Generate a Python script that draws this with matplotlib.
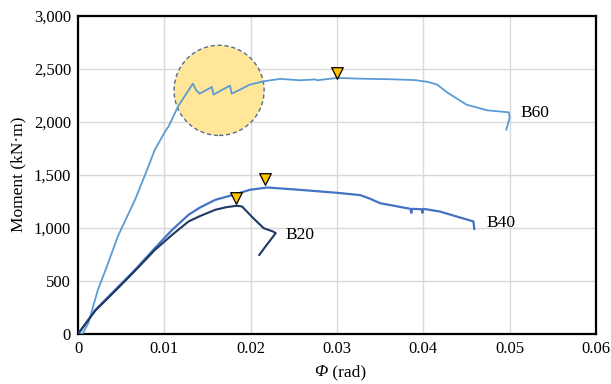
import matplotlib
matplotlib.use("Agg")
import matplotlib.pyplot as plt
from matplotlib.patches import Ellipse
from matplotlib.ticker import FuncFormatter

plt.rcParams['font.family'] = ['Liberation Serif', 'DejaVu Serif']

# curvature (rad) and moment (kN*m)
b60_phi = [0.0, 0.0005, 0.0012, 0.0023, 0.0035, 0.0046, 0.0066, 0.0080, 0.0089,
           0.0101, 0.0105, 0.0116, 0.0133, 0.0137, 0.0141, 0.0155, 0.0157, 0.0176,
           0.0178, 0.0186, 0.0199, 0.0215, 0.0234, 0.0257, 0.0275, 0.0277, 0.0300,
           0.0327, 0.0360, 0.0390, 0.0405, 0.0416, 0.0428, 0.0450, 0.0474, 0.0499,
           0.0500, 0.0496]
b60_m = [0, 0, 104, 415, 670, 918, 1264, 1547, 1736,
         1910, 1957, 2146, 2358, 2295, 2264, 2327, 2255, 2340,
         2264, 2295, 2349, 2380, 2403, 2390, 2398, 2390, 2412,
         2405, 2400, 2392, 2375, 2349, 2273, 2160, 2107, 2088,
         2038, 1925]

b40_phi = [0.0, 0.0020, 0.0043, 0.0066, 0.0089, 0.0109, 0.0128, 0.0141, 0.0159,
           0.0180, 0.0199, 0.0219, 0.0257, 0.0300, 0.0327, 0.0338, 0.0350, 0.0385,
           0.0386, 0.0387, 0.0398, 0.0399, 0.0400, 0.0419, 0.0458, 0.0459]
b40_m = [0, 226, 415, 604, 808, 981, 1123, 1190, 1264,
         1311, 1358, 1380, 1358, 1330, 1308, 1275, 1232, 1179,
         1141, 1179, 1175, 1141, 1179, 1154, 1060, 990]

b20_phi = [0.0, 0.0020, 0.0043, 0.0066, 0.0089, 0.0109, 0.0128, 0.0141, 0.0159,
           0.0172, 0.0184, 0.0190, 0.0203, 0.0215, 0.0226, 0.0229, 0.0217, 0.0210]
b20_m = [0, 220, 405, 595, 792, 934, 1060, 1110, 1170,
         1195, 1208, 1201, 1091, 997, 965, 950, 823, 745]

peak_phi = [0.0300, 0.0216, 0.0183]
peak_m = [2462, 1462, 1280]

labels = ["B60", "B40", "B20"]
label_phi = [0.0513, 0.0473, 0.0240]
label_m = [2080, 1050, 930]

fig = plt.figure(figsize=(6.11, 3.84), dpi=100)
ax = fig.add_axes([0.1277, 0.1302, 0.8478, 0.8294])

ax.grid(True, color='#D9D9D9', linewidth=1.0, zorder=0)
ax.set_axisbelow(True)

# highlighted region around the stepped drops of B60
ax.add_patch(Ellipse((0.01634, 2295), 0.01043, 849, facecolor='#FFE699',
                     edgecolor='#4F6E94', linestyle=(0, (3, 2)), linewidth=1.0,
                     zorder=1))

ax.plot(b60_phi, b60_m, color='#5B9BD5', linewidth=1.3, zorder=3)
ax.plot(b40_phi, b40_m, color='#4472C4', linewidth=1.6, zorder=3)
ax.plot(b20_phi, b20_m, color='#1F3864', linewidth=1.5, zorder=3)

ax.scatter(peak_phi, peak_m, marker='v', s=70, facecolor='#FFC000',
           edgecolor='black', linewidth=0.9, zorder=4)

for lab, x, y in zip(labels, label_phi, label_m):
    ax.text(x, y, lab, fontsize=12.5, ha='left', va='center')

ax.set_xlim(0, 0.06)
ax.set_ylim(0, 3000)
ax.set_xticks([0, 0.01, 0.02, 0.03, 0.04, 0.05, 0.06])
ax.set_xticklabels(['0', '0.01', '0.02', '0.03', '0.04', '0.05', '0.06'])
ax.set_yticks(range(0, 3001, 500))
ax.yaxis.set_major_formatter(FuncFormatter(lambda v, p: f"{int(v):,}"))
ax.tick_params(labelsize=12, length=0, pad=5)

for s in ax.spines.values():
    s.set_color('black')
    s.set_linewidth(1.6)

# x label: italic Phi followed by upright unit
ax.text(0.482, -0.12, 'Φ', style='italic', fontsize=12.5, ha='right',
        va='center', transform=ax.transAxes)
ax.text(0.482, -0.12, ' (rad)', fontsize=12.5, ha='left', va='center',
        transform=ax.transAxes)
ax.set_ylabel('Moment (kN·m)', fontsize=12.5, labelpad=5)

fig.savefig('out.png', dpi=100)
